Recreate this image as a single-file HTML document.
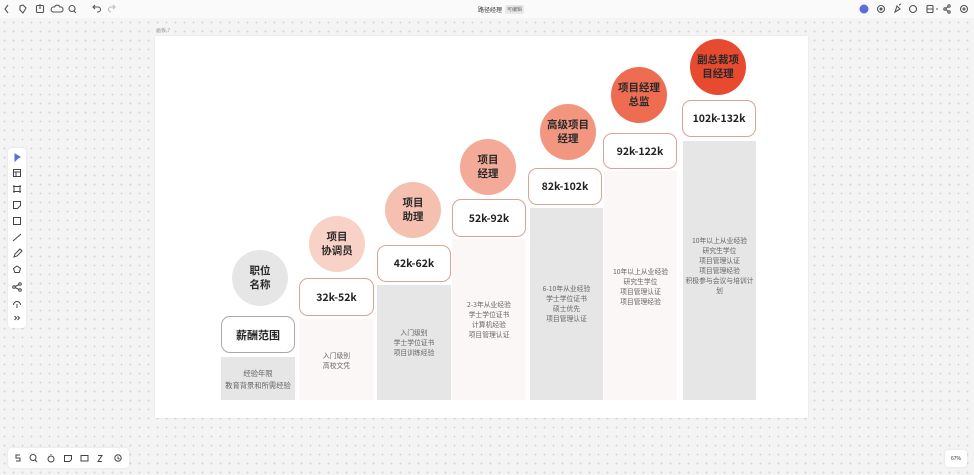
<!DOCTYPE html>
<html><head><meta charset="utf-8">
<style>
*{margin:0;padding:0;box-sizing:border-box}
html,body{width:974px;height:475px;overflow:hidden}
body{position:relative;background-color:#f4f4f4;background-image:radial-gradient(circle,#d6d6d6 0.8px,transparent 1.1px);background-size:9px 9px;font-family:"Liberation Sans","Noto Sans CJK SC",sans-serif}
.top{position:absolute;left:0;top:0;width:974px;height:18px;background:#fafafa}
.ic{position:absolute}
.frame{position:absolute;left:155px;top:36px;width:653px;height:382px;background:#fff;box-shadow:0 0 2px rgba(0,0,0,.08)}
.lbl{position:absolute;left:156px;top:27px;font-size:5px;color:#999}
.bar{position:absolute;bottom:75px}
.g{background:#e6e6e6}.l{background:#fbf7f6}
.box{position:absolute;background:#fff;border:1.3px solid #d9a398;border-radius:9px;display:flex;align-items:center;justify-content:center;font-weight:bold;font-size:10.5px;color:#222;font-family:"Noto Sans CJK SC","Liberation Sans",sans-serif}
.c{position:absolute;width:56px;height:56px;border-radius:50%;display:flex;align-items:center;justify-content:center;text-align:center;font-weight:bold;font-size:10.5px;line-height:14px;color:#2a2a2a;font-family:"Noto Sans CJK SC",sans-serif}
.t{position:absolute;text-align:center;font-size:6.8px;line-height:10px;color:#666;font-family:"Noto Sans CJK SC",sans-serif;white-space:nowrap}
.panel{position:absolute;background:#fff;border-radius:4px;box-shadow:0 0 3px rgba(0,0,0,.08)}
</style></head><body>
<div class="top"></div>
<!-- top left icons -->
<svg class="ic" style="left:0;top:0" width="130" height="18" viewBox="0 0 130 18" fill="none" stroke="#555" stroke-width="1.1">
<path d="M8 5 L5 9 L8 13"/>
<path d="M20 6 l3 -1 l3 3 l-3 5 l-3 -3z"/>
<rect x="36.5" y="5.5" width="7" height="7" rx="1"/><path d="M40 4 v5"/>
<path d="M53 12 h8 a2.5 2.5 0 0 0 -1 -5 a3 3 0 0 0 -5.5 0 a2.5 2.5 0 0 0 -1.5 5z"/>
<circle cx="72" cy="8.5" r="3"/><path d="M74 11 l2 2"/>
<path d="M94 7 h4 a2.5 2.5 0 0 1 0 5 h-1 M95 5 l-2 2 l2 2"/>
<path d="M114 7 h-3 a2.5 2.5 0 0 0 0 5 M113 5 l2 2 l-2 2" stroke="#bbb"/>
</svg>
<div style="position:absolute;left:478px;top:5px;font-size:6px;color:#333;font-family:'Noto Sans CJK SC',sans-serif">路径经理</div>
<div style="position:absolute;left:505px;top:4.5px;font-size:5px;color:#666;background:#e8e8e8;border-radius:2px;padding:1px 2px;font-family:'Noto Sans CJK SC',sans-serif">可编辑</div>
<!-- top right icons -->
<svg class="ic" style="left:855px;top:0" width="119" height="18" viewBox="0 0 119 18" fill="none" stroke="#555" stroke-width="1.1">
<circle cx="9" cy="9" r="4.5" fill="#5b6be0" stroke="none"/>
<circle cx="26" cy="9" r="3.5"/><circle cx="26" cy="9" r="1" fill="#555"/>
<path d="M40 12 l2 -6 l3 3 z M44 5 l2 -1"/>
<circle cx="58" cy="9" r="3.5"/>
<rect x="72" y="5.5" width="6" height="7" rx="1"/><path d="M72 9 h6 M81 9 h2"/>
<circle cx="94" cy="6" r="1.2"/><circle cx="94" cy="12" r="1.2"/><circle cx="90" cy="9" r="1.2"/><path d="M91 8.5 l2 -2 M91 9.5 l2 2"/>
<circle cx="109" cy="9" r="3.5"/><circle cx="109" cy="9" r="1"/>
</svg>
<!-- left toolbar -->
<div class="panel" style="left:8px;top:148px;width:18px;height:180px"></div>
<svg class="ic" style="left:8px;top:148px" width="18" height="180" viewBox="0 0 18 180" fill="none" stroke="#444" stroke-width="1">
<path d="M7 6 l5 3 l-2 1 l-3 3z" fill="#5b6be0" stroke="#5b6be0"/>
<rect x="5.5" y="21.5" width="7" height="7"/><path d="M5.5 24 h7 M8 24 v4.5"/>
<path d="M6 37 v8 M12 37 v8 M5 38.5 h8 M5 43.5 h8"/>
<path d="M5.5 53.5 h7 v4 l-3 3 h-4z"/>
<rect x="5.5" y="69.5" width="7" height="7"/>
<path d="M5 93 l8 -7"/>
<path d="M6 109 l1 -3 l5 -5 l2 2 l-5 5z"/>
<path d="M9 118 l3.5 2.5 l-1.3 4 h-4.4 l-1.3 -4z"/>
<circle cx="6" cy="139" r="1.3"/><circle cx="12" cy="136" r="1.3"/><circle cx="12" cy="142" r="1.3"/><path d="M7 138.5 l4 -2 M7 139.5 l4 2"/>
<path d="M5.5 157 a3.5 3.5 0 1 1 7 0 M9 156 v4"/>
<path d="M6.5 168 l2 2 l-2 2 M9.5 168 l2 2 l-2 2"/>
</svg>
<!-- bottom toolbar -->
<div class="panel" style="left:8px;top:448px;width:121px;height:20px"></div>
<svg class="ic" style="left:8px;top:448px" width="121" height="20" viewBox="0 0 121 20" fill="none" stroke="#444" stroke-width="1">
<path d="M12 7 h-4 v3 h4 v3 h-4"/>
<circle cx="25" cy="9.5" r="3"/><path d="M27 12 l2 2"/>
<circle cx="43" cy="11" r="3"/><path d="M43 7 v-1"/>
<path d="M56.5 7.5 h7 v4 l-2 2 h-5z"/>
<rect x="73" y="7.5" width="7" height="5.5"/>
<path d="M90 7.5 h4 l-4 6 h4"/>
<circle cx="110" cy="10" r="3.2"/><path d="M110 8.5 v2 l1.5 0.5"/>
</svg>
<div class="panel" style="left:945px;top:450px;width:22px;height:17px;font-size:5px;color:#333;display:flex;align-items:center;justify-content:center">67%</div>

<div class="frame"></div>
<div class="lbl">画板 7</div>

<!-- bars -->
<div class="bar g" style="left:221px;top:357px;width:74px"></div>
<div class="bar l" style="left:299px;top:319px;width:75px"></div>
<div class="bar g" style="left:377px;top:285px;width:74px"></div>
<div class="bar l" style="left:452px;top:239px;width:74px"></div>
<div class="bar g" style="left:530px;top:208px;width:73px"></div>
<div class="bar l" style="left:604px;top:171px;width:73px"></div>
<div class="bar g" style="left:683px;top:141px;width:73px"></div>

<!-- boxes -->
<div class="box" style="left:221px;top:316px;width:74px;height:37px;border-color:#a9a9a9;font-size:11px">薪酬范围</div>
<div class="box" style="left:299px;top:278px;width:75px;height:38px">32k-52k</div>
<div class="box" style="left:377px;top:245px;width:74px;height:37px">42k-62k</div>
<div class="box" style="left:452px;top:199px;width:74px;height:38px">52k-92k</div>
<div class="box" style="left:528px;top:168px;width:74px;height:37px">82k-102k</div>
<div class="box" style="left:603px;top:133px;width:74px;height:36px">92k-122k</div>
<div class="box" style="left:682px;top:100px;width:74px;height:37px">102k-132k</div>

<!-- circles -->
<div class="c" style="left:232px;top:250px;background:#e6e6e6">职位<br>名称</div>
<div class="c" style="left:309px;top:216px;background:#f8d1c7">项目<br>协调员</div>
<div class="c" style="left:385px;top:182px;background:#f6c0b1">项目<br>助理</div>
<div class="c" style="left:460px;top:139px;background:#f4aa98">项目<br>经理</div>
<div class="c" style="left:540px;top:104px;background:#f29680">高级项目<br>经理</div>
<div class="c" style="left:611px;top:67px;background:#ee6d52">项目经理<br>总监</div>
<div class="c" style="left:690px;top:39px;background:#e84a2f">副总裁项<br>目经理</div>

<!-- bar texts -->
<div class="t" style="left:221px;width:74px;top:368px;font-size:7.3px;line-height:12px">经验年限<br>教育背景和所需经验</div>
<div class="t" style="left:299px;width:75px;top:350px">入门级别<br>高校文凭</div>
<div class="t" style="left:377px;width:74px;top:327px">入门级别<br>学士学位证书<br>项目训练经验</div>
<div class="t" style="left:452px;width:74px;top:299px">2-3年从业经验<br>学士学位证书<br>计算机经验<br>项目管理认证</div>
<div class="t" style="left:530px;width:73px;top:283px">6-10年从业经验<br>学士学位证书<br>硕士优先<br>项目管理认证</div>
<div class="t" style="left:604px;width:73px;top:266px">10年以上从业经验<br>研究生学位<br>项目管理认证<br>项目管理经验</div>
<div class="t" style="left:683px;width:73px;top:235px">10年以上从业经验<br>研究生学位<br>项目管理认证<br>项目管理经验<br>积极参与会议与培训计<br>划</div>
</body></html>
